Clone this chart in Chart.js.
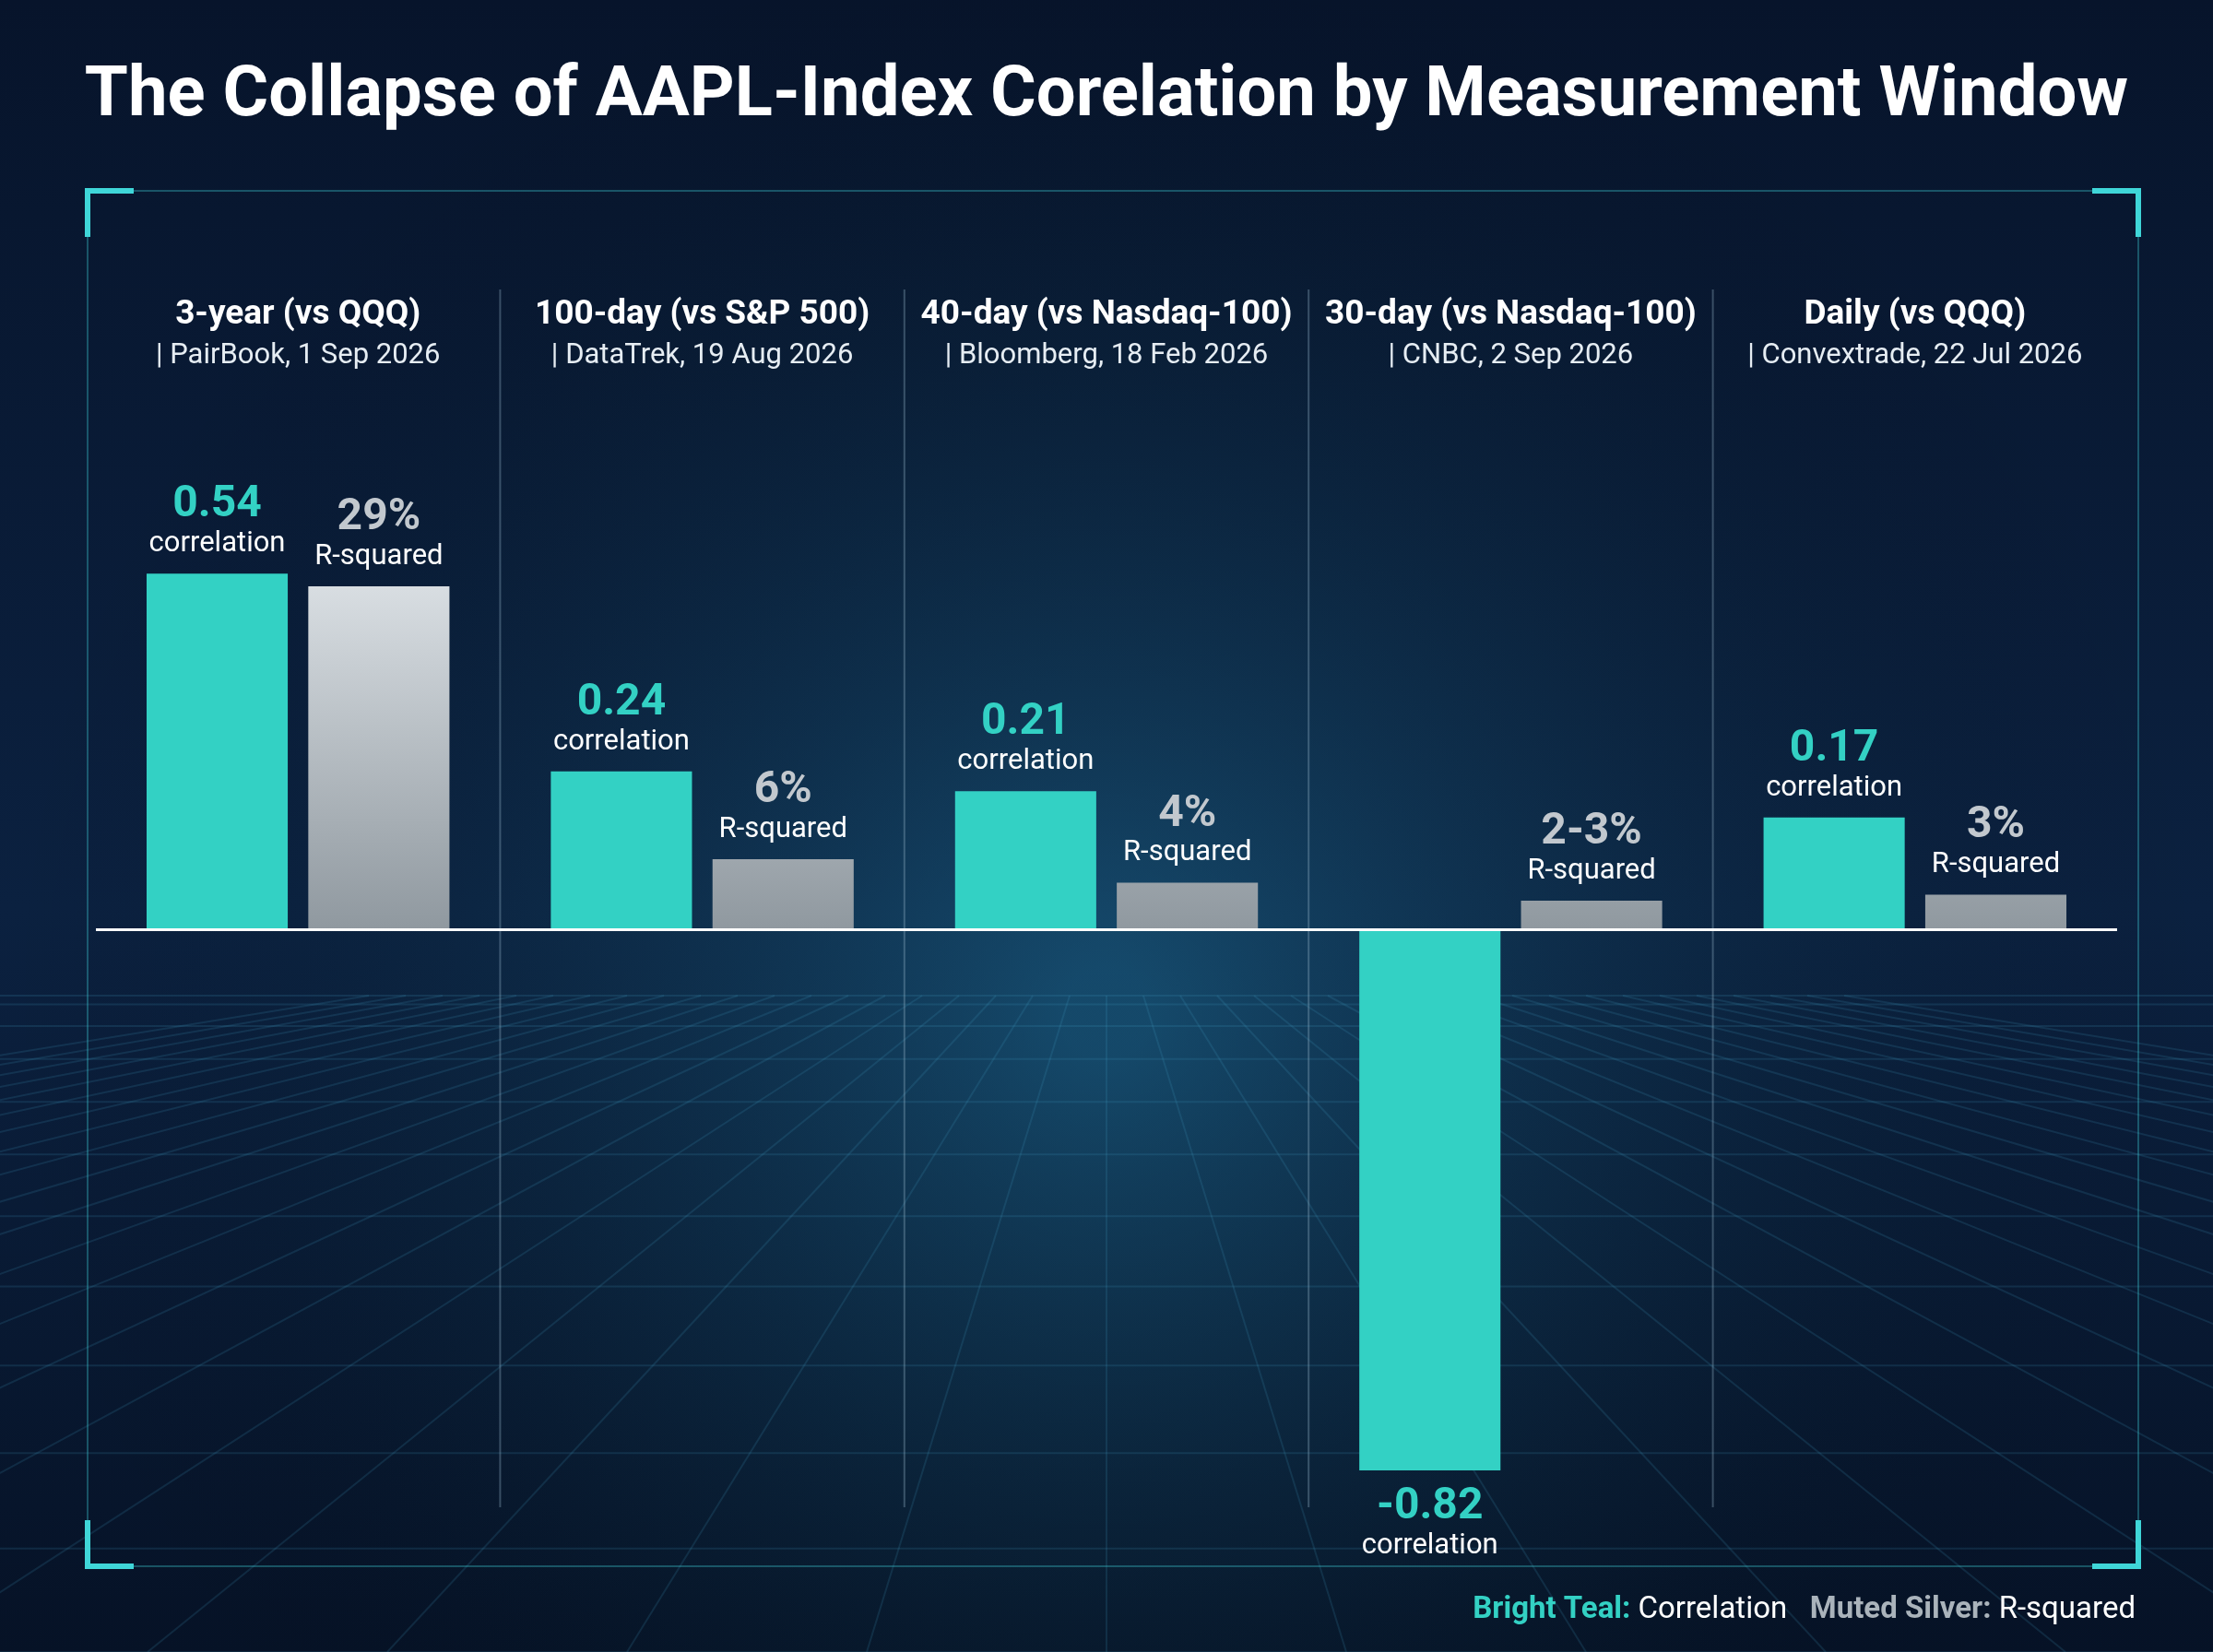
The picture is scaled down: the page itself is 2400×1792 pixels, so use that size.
<!DOCTYPE html>
<html><head><meta charset="utf-8">
<script src="https://cdn.jsdelivr.net/npm/chart.js@4/dist/chart.umd.min.js"></script>
<style>html,body{margin:0;padding:0;background:#07142a;}canvas{display:block;}</style>
</head><body>
<canvas id="c" width="2400" height="1792"></canvas>
<script>
const titleText = "The Collapse of AAPL-Index Corelation by Measurement Window";
const categories = ["3-year (vs QQQ)","100-day (vs S&P 500)","40-day (vs Nasdaq-100)","30-day (vs Nasdaq-100)","Daily (vs QQQ)"];
const sources = ["| PairBook, 1 Sep 2026","| DataTrek, 19 Aug 2026","| Bloomberg, 18 Feb 2026","| CNBC, 2 Sep 2026","| Convextrade, 22 Jul 2026"];
const correlation = [0.54, 0.24, 0.21, -0.82, 0.17];
const rSquared = [29, 6, 4, 2.5, 3];
const rSquaredLabels = ["29%","6%","4%","2-3%","3%"];

const TEAL = "#33d1c4", SILVER = "#c2c8ce", FONT = "Roboto, 'Noto Sans', sans-serif";

const bgPlugin = {
  id:'bg',
  beforeDraw(chart){
    const c = chart.ctx, W = chart.width, H = chart.height;
    c.save();
    let g = c.createLinearGradient(0,0,0,H);
    g.addColorStop(0,'#07142b'); g.addColorStop(0.55,'#0b2140'); g.addColorStop(1,'#061226');
    c.fillStyle = g; c.fillRect(0,0,W,H);
    let r = c.createRadialGradient(W/2,1100,50,W/2,1100,1200);
    r.addColorStop(0,'rgba(40,150,190,0.35)'); r.addColorStop(1,'rgba(0,0,0,0)');
    c.fillStyle = r; c.fillRect(0,0,W,H);
    c.strokeStyle = 'rgba(70,160,200,0.16)'; c.lineWidth = 2;
    const hy = 1080;
    for (let i=-20;i<=20;i++){ c.beginPath(); c.moveTo(W/2+i*40,hy); c.lineTo(W/2+i*260,H); c.stroke(); }
    for (let k=0;k<12;k++){ const y = hy + Math.pow(k/11,1.8)*(H-hy); c.beginPath(); c.moveTo(0,y); c.lineTo(W,y); c.stroke(); }
    c.strokeStyle = 'rgba(60,200,210,0.35)'; c.lineWidth = 2;
    c.strokeRect(95,207,2224,1492);
    c.strokeStyle = '#3fd6d8'; c.lineWidth = 6;
    const L=50, x0=95,y0=207,x1=2319,y1=1699;
    [[x0,y0,1,1],[x1,y0,-1,1],[x0,y1,1,-1],[x1,y1,-1,-1]].forEach(([x,y,dx,dy])=>{
      c.beginPath(); c.moveTo(x+dx*L,y); c.lineTo(x,y); c.lineTo(x,y+dy*L); c.stroke();
    });
    c.fillStyle = '#fff'; c.font = `bold 76px ${FONT}`; c.textAlign='center'; c.textBaseline='middle';
    c.fillText(titleText, W/2, 106);
    c.restore();
  }
};

const overlay = {
  id:'overlay',
  afterDatasetsDraw(chart){
    const c = chart.ctx, a = chart.chartArea;
    const z = chart.scales.y.getPixelForValue(0);
    c.save();
    const step = (a.right-a.left)/categories.length;
    c.strokeStyle='rgba(150,180,200,0.35)'; c.lineWidth=2;
    for(let i=1;i<categories.length;i++){ const x=a.left+step*i; c.beginPath(); c.moveTo(x,314); c.lineTo(x,1635); c.stroke(); }
    c.strokeStyle='#ffffff'; c.lineWidth=3; c.beginPath(); c.moveTo(a.left,z); c.lineTo(a.right,z); c.stroke();
    c.textAlign='center'; c.textBaseline='middle';
    categories.forEach((cat,i)=>{
      const x=a.left+step*(i+0.5);
      c.fillStyle='#fff'; c.font=`bold 37px ${FONT}`; c.fillText(cat,x,342);
      c.font=`31px ${FONT}`; c.fillStyle='#e6edf3'; c.fillText(sources[i],x,386);
    });
    const m0=chart.getDatasetMeta(0), m1=chart.getDatasetMeta(1);
    correlation.forEach((v,i)=>{
      const b=m0.data[i];
      if(v>=0){
        c.fillStyle=TEAL; c.font=`bold 48px ${FONT}`; c.fillText(v.toFixed(2),b.x,b.y-74);
        c.fillStyle='#fff'; c.font=`31px ${FONT}`; c.fillText('correlation',b.x,b.y-32);
      } else {
        c.fillStyle=TEAL; c.font=`bold 48px ${FONT}`; c.fillText(v.toFixed(2),b.x,b.y+40);
        c.fillStyle='#fff'; c.font=`31px ${FONT}`; c.fillText('correlation',b.x,b.y+82);
      }
    });
    rSquared.forEach((v,i)=>{
      const b=m1.data[i];
      c.fillStyle=SILVER; c.font=`bold 48px ${FONT}`; c.fillText(rSquaredLabels[i],b.x,b.y-74);
      c.fillStyle='#fff'; c.font=`31px ${FONT}`; c.fillText('R-squared',b.x,b.y-32);
    });
    c.textAlign='left'; c.textBaseline='middle';
    const parts=[['Bright Teal:',TEAL,true],[' Correlation','#fff',false],['   Muted Silver:','#aab3bb',true],[' R-squared','#fff',false]];
    let w=0; parts.forEach(p=>{c.font=`${p[2]?'bold ':''}33px ${FONT}`; w+=c.measureText(p[0]).width;});
    let x=2316-w;
    parts.forEach(p=>{c.font=`${p[2]?'bold ':''}33px ${FONT}`; c.fillStyle=p[1]; c.fillText(p[0],x,1747); x+=c.measureText(p[0]).width;});
    c.restore();
  }
};

new Chart(document.getElementById('c'), {
  type:'bar',
  data:{ labels:categories, datasets:[
    {label:'Correlation', data:correlation, yAxisID:'y', backgroundColor:TEAL, borderWidth:0},
    {label:'R-squared', data:rSquared, yAxisID:'y2', borderWidth:0,
      backgroundColor:(ctx)=>{ const g=ctx.chart.ctx.createLinearGradient(0,600,0,1010); g.addColorStop(0,'#dfe4e8'); g.addColorStop(1,'#8f989f'); return g; }}
  ]},
  options:{
    responsive:false, animation:false, devicePixelRatio:1,
    layout:{padding:{left:104,right:104,top:429,bottom:154}},
    categoryPercentage:0.8, barPercentage:0.873,
    plugins:{legend:{display:false}, tooltip:{enabled:false}},
    scales:{
      x:{display:false},
      y:{display:false, min:-0.88, max:0.81},
      y2:{display:false, min:-48.9, max:45.1}
    }
  },
  plugins:[bgPlugin, overlay]
});
</script>
</body></html>
